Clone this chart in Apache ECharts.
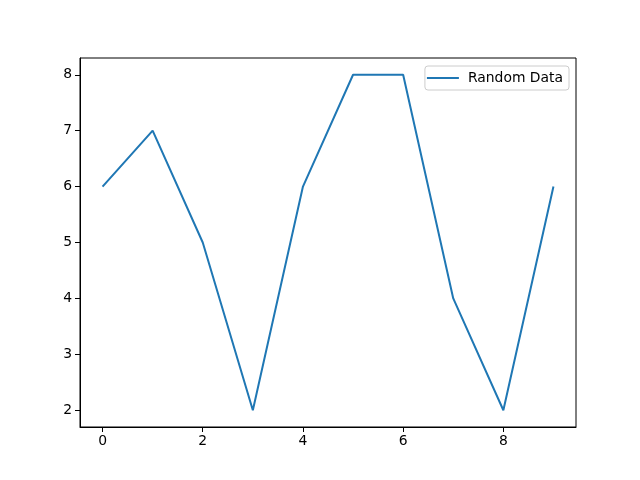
<!DOCTYPE html>
<html>
<head>
<meta charset="utf-8">
<script src="https://cdn.jsdelivr.net/npm/echarts@6/dist/echarts.min.js"></script>
<style>html,body{margin:0;padding:0;background:#fff}#c{width:640px;height:480px}</style>
</head>
<body>
<div id="c"></div>
<script>
const xValues = [0, 1, 2, 3, 4, 5, 6, 7, 8, 9];
const yValues = [6, 7, 5, 2, 6, 8, 8, 4, 2, 6];
const xTicks = [0, 2, 4, 6, 8];
const yTicks = [2, 3, 4, 5, 6, 7, 8];
const seriesName = 'Random Data';

const chart = echarts.init(document.getElementById('c'), null, {renderer: 'canvas'});
const font = 'DejaVu Sans';
chart.setOption({
  animation: false,
  backgroundColor: '#ffffff',
  grid: {left: 80, right: 64, top: 58, bottom: 53, show: true, borderColor: '#000', borderWidth: 1, backgroundColor: 'transparent'},
  legend: {
    show: true,
    data: [seriesName],
    right: 71, top: 66,
    orient: 'vertical',
    backgroundColor: '#fff',
    borderColor: '#cccccc', borderWidth: 1, borderRadius: 3,
    padding: [5, 6, 5, 2],
    itemWidth: 32, itemHeight: 2, itemGap: 10,
    icon: 'rect',
    textStyle: {fontFamily: font, fontSize: 13.9, color: '#000', padding: [0, 0, 0, 4]}
  },
  xAxis: {
    type: 'value', min: -0.45, max: 9.45,
    splitLine: {show: false},
    axisLine: {show: true, onZero: false, lineStyle: {color: '#000'}},
    axisTick: {show: true, inside: false, length: 5, lineStyle: {color: '#000'}, customValues: xTicks},
    axisLabel: {fontFamily: font, fontSize: 13.9, color: '#000', margin: 7, customValues: xTicks}
  },
  yAxis: {
    type: 'value', min: 1.7, max: 8.3,
    splitLine: {show: false},
    axisLine: {show: true, onZero: false, lineStyle: {color: '#000'}},
    axisTick: {show: true, inside: false, length: 5, lineStyle: {color: '#000'}, customValues: yTicks},
    axisLabel: {fontFamily: font, fontSize: 13.9, color: '#000', margin: 8, customValues: yTicks}
  },
  series: [{
    name: seriesName,
    type: 'line',
    data: xValues.map((x, i) => [x, yValues[i]]),
    showSymbol: false,
    symbol: 'none',
    lineStyle: {color: '#1f77b4', width: 2},
    itemStyle: {color: '#1f77b4'}
  }]
});
</script>
</body>
</html>
